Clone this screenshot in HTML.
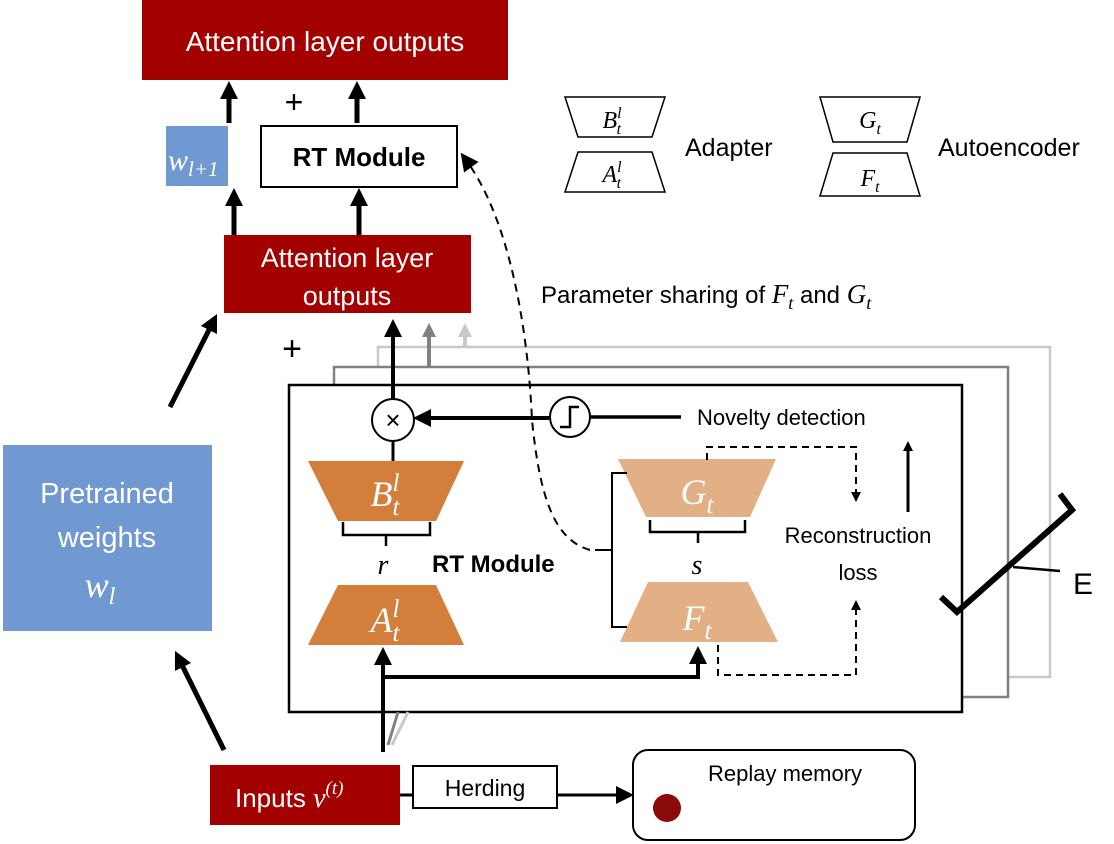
<!DOCTYPE html>
<html><head><meta charset="utf-8"><style>
html,body{margin:0;padding:0;background:#fff;}
svg{display:block;font-family:"Liberation Sans",sans-serif;}
.m{font-family:"Liberation Serif",serif;font-style:italic;}
</style></head><body>
<svg width="1114" height="844" viewBox="0 0 1114 844" xmlns="http://www.w3.org/2000/svg">
<defs>
<marker id="ah" markerWidth="10" markerHeight="10" refX="5" refY="5" orient="auto" markerUnits="userSpaceOnUse" viewBox="0 0 10 10"><path d="M0,0 L10,5 L0,10 z" fill="#000"/></marker>
<marker id="ahb" markerWidth="18" markerHeight="18" refX="9" refY="9" orient="auto" markerUnits="userSpaceOnUse" viewBox="0 0 18 18"><path d="M0,0 L18,9 L0,18 z" fill="#000"/></marker>
<marker id="ahg" markerWidth="14" markerHeight="14" refX="7" refY="7" orient="auto" markerUnits="userSpaceOnUse" viewBox="0 0 14 14"><path d="M0,0 L14,7 L0,14 z" fill="#808080"/></marker>
<marker id="ahl" markerWidth="14" markerHeight="14" refX="7" refY="7" orient="auto" markerUnits="userSpaceOnUse" viewBox="0 0 14 14"><path d="M0,0 L14,7 L0,14 z" fill="#c8c8c8"/></marker>
</defs>

<rect x="142" y="0" width="366" height="80" fill="#a30000"/>
<text x="325" y="51" fill="#fff" font-size="28" text-anchor="middle">Attention layer outputs</text>
<line x1="229" y1="123" x2="229" y2="90" stroke="#000" stroke-width="5" marker-end="url(#ahb)"/>
<line x1="357" y1="123" x2="357" y2="90" stroke="#000" stroke-width="5" marker-end="url(#ahb)"/>
<text x="294" y="113" font-size="32" text-anchor="middle">+</text>
<rect x="166" y="126" width="62" height="60" fill="#7199d1"/>
<text x="168" y="170" class="m" fill="#fff" font-size="30">w<tspan font-size="21" dy="6">l+1</tspan></text>
<rect x="261" y="126" width="196" height="61" fill="#fff" stroke="#000" stroke-width="2"/>
<text x="359" y="166" font-size="26" font-weight="bold" text-anchor="middle">RT Module</text>
<line x1="234" y1="235" x2="234" y2="197" stroke="#000" stroke-width="5" marker-end="url(#ahb)"/>
<line x1="359" y1="235" x2="359" y2="197" stroke="#000" stroke-width="5" marker-end="url(#ahb)"/>

<rect x="224" y="235" width="247" height="78" fill="#a30000"/>
<text x="347" y="267" fill="#fff" font-size="27" text-anchor="middle">Attention layer</text>
<text x="347" y="305" fill="#fff" font-size="27" text-anchor="middle">outputs</text>
<text x="292" y="360" font-size="34" text-anchor="middle">+</text>

<polygon points="565,97 665,97 652,137 578,137" fill="#fff" stroke="#000" stroke-width="1.5"/>
<text x="612" y="128" class="m" font-size="24" text-anchor="middle">B<tspan font-size="16" dy="-10">l</tspan><tspan font-size="16" dx="-5" dy="16">t</tspan></text>
<polygon points="578,152 652,152 665,192 565,192" fill="#fff" stroke="#000" stroke-width="1.5"/>
<text x="612" y="182" class="m" font-size="24" text-anchor="middle">A<tspan font-size="16" dy="-10">l</tspan><tspan font-size="16" dx="-5" dy="16">t</tspan></text>
<text x="685" y="156" font-size="25">Adapter</text>
<polygon points="820,97 920,97 907,142 833,142" fill="#fff" stroke="#000" stroke-width="1.5"/>
<text x="870" y="128" class="m" font-size="24" text-anchor="middle">G<tspan font-size="16" dy="6">t</tspan></text>
<polygon points="833,153 907,153 920,196 820,196" fill="#fff" stroke="#000" stroke-width="1.5"/>
<text x="870" y="186" class="m" font-size="24" text-anchor="middle">F<tspan font-size="16" dy="6">t</tspan></text>
<text x="938" y="156" font-size="25">Autoencoder</text>
<text x="541" y="303" font-size="24">Parameter sharing of <tspan class="m" font-size="27">F<tspan font-size="18" dy="6">t</tspan></tspan><tspan dy="-6"> and </tspan><tspan class="m" font-size="27">G<tspan font-size="18" dy="6">t</tspan></tspan></text>

<polyline points="378,367 378,347 1050,347 1050,677 1008,677" fill="none" stroke="#c8c8c8" stroke-width="2.5"/>
<polyline points="334,385 334,367 1008,367 1008,697 962,697" fill="none" stroke="#808080" stroke-width="2.5"/>
<line x1="465" y1="347" x2="465" y2="330" stroke="#c8c8c8" stroke-width="4" marker-end="url(#ahl)"/>
<line x1="429" y1="367" x2="429" y2="330" stroke="#808080" stroke-width="4" marker-end="url(#ahg)"/>
<rect x="289" y="385" width="673" height="327" fill="#fff" stroke="#000" stroke-width="2.5"/>

<line x1="393" y1="400" x2="393" y2="328" stroke="#000" stroke-width="4" marker-end="url(#ahb)"/>
<line x1="393" y1="440" x2="393" y2="462" stroke="#000" stroke-width="3"/>
<circle cx="393" cy="420" r="21" fill="#fff" stroke="#000" stroke-width="2"/>
<text x="393" y="429" font-size="26" text-anchor="middle">×</text>
<line x1="549" y1="418" x2="422" y2="418" stroke="#000" stroke-width="4" marker-end="url(#ahb)"/>
<circle cx="570" cy="417" r="20" fill="#fff" stroke="#000" stroke-width="2"/>
<polyline points="560,427 570,427 570,407 579,407" fill="none" stroke="#000" stroke-width="2.5"/>
<line x1="590" y1="417" x2="681" y2="417" stroke="#000" stroke-width="3.5"/>
<text x="697" y="425" font-size="22">Novelty detection</text>

<polygon points="308,461 464,461 436,521 338,521" fill="#d47e3b"/>
<text x="385" y="506" class="m" fill="#fff" font-size="36" text-anchor="middle">B<tspan font-size="25" dy="-15">l</tspan><tspan font-size="25" dx="-7" dy="24">t</tspan></text>
<polygon points="338,585 436,585 464,645 308,645" fill="#d47e3b"/>
<text x="385" y="632" class="m" fill="#fff" font-size="36" text-anchor="middle">A<tspan font-size="25" dy="-15">l</tspan><tspan font-size="25" dx="-7" dy="24">t</tspan></text>
<polyline points="343,522 343,535 430,535 430,522" fill="none" stroke="#000" stroke-width="2.5"/>
<line x1="386" y1="535" x2="386" y2="546" stroke="#000" stroke-width="2.5"/>
<text x="383" y="574" class="m" font-size="28" text-anchor="middle">r</text>
<text x="432" y="572" font-size="24" font-weight="bold">RT Module</text>

<polygon points="618,459 776,459 750,517 646,517" fill="#e3b085"/>
<text x="697" y="504" class="m" fill="#fff" font-size="36" text-anchor="middle">G<tspan font-size="25" dy="9">t</tspan></text>
<polygon points="648,582 748,582 778,642 620,642" fill="#e3b085"/>
<text x="697" y="630" class="m" fill="#fff" font-size="36" text-anchor="middle">F<tspan font-size="25" dy="9">t</tspan></text>
<polyline points="650,520 650,532 745,532 745,520" fill="none" stroke="#000" stroke-width="2.5"/>
<line x1="698" y1="532" x2="698" y2="543" stroke="#000" stroke-width="2.5"/>
<text x="697" y="574" class="m" font-size="28" text-anchor="middle">s</text>
<path d="M627,473 L612,473 L612,550 L595,550 M612,550 L612,627 L627,627" fill="none" stroke="#000" stroke-width="2"/>
<text x="858" y="543" font-size="22" text-anchor="middle">Reconstruction</text>
<text x="858" y="580" font-size="22" text-anchor="middle">loss</text>
<polyline points="707,460 707,447 856,447 856,497" fill="none" stroke="#000" stroke-width="2" stroke-dasharray="7,5" marker-end="url(#ah)"/>
<line x1="908" y1="512" x2="908" y2="446" stroke="#000" stroke-width="3" marker-end="url(#ah)"/>
<polyline points="718,645 718,675 856,675 856,605" fill="none" stroke="#000" stroke-width="2" stroke-dasharray="7,5" marker-end="url(#ah)"/>

<path d="M590,550 C555,540 540,500 532,420 C528,330 510,220 466,160" fill="none" stroke="#000" stroke-width="2" stroke-dasharray="8,6" marker-end="url(#ahb)"/>

<line x1="383" y1="752" x2="383" y2="656" stroke="#000" stroke-width="4" marker-end="url(#ahb)"/>
<polyline points="383,677 698,677 698,655" fill="none" stroke="#000" stroke-width="4" marker-end="url(#ahb)"/>
<line x1="388" y1="745" x2="398" y2="712" stroke="#808080" stroke-width="3"/>
<line x1="392" y1="745" x2="408" y2="712" stroke="#c8c8c8" stroke-width="3"/>

<polyline points="941,597 957,612 1072,510 1060,494" fill="none" stroke="#000" stroke-width="6"/>
<line x1="1013" y1="567" x2="1060" y2="571" stroke="#000" stroke-width="2.5"/>
<text x="1073" y="594" font-size="30">E</text>

<rect x="3" y="445" width="209" height="186" fill="#7199d1"/>
<text x="107" y="503" fill="#fff" font-size="29" text-anchor="middle">Pretrained</text>
<text x="107" y="547" fill="#fff" font-size="29" text-anchor="middle">weights</text>
<text x="100" y="597" class="m" fill="#fff" font-size="36" text-anchor="middle">w<tspan font-size="24" dy="7">l</tspan></text>
<line x1="170" y1="407" x2="213" y2="322" stroke="#000" stroke-width="5" marker-end="url(#ahb)"/>
<line x1="224" y1="750" x2="179" y2="659" stroke="#000" stroke-width="5" marker-end="url(#ahb)"/>

<rect x="210" y="765" width="190" height="60" fill="#a30000"/>
<text x="235" y="807" fill="#fff" font-size="26">Inputs <tspan class="m" font-size="28">v</tspan><tspan class="m" font-size="19" dy="-13">(t)</tspan></text>
<line x1="400" y1="795" x2="413" y2="795" stroke="#000" stroke-width="3"/>
<rect x="413" y="766" width="144" height="42" fill="#fff" stroke="#000" stroke-width="2"/>
<text x="485" y="796" font-size="23" text-anchor="middle">Herding</text>
<line x1="557" y1="795" x2="625" y2="795" stroke="#000" stroke-width="3" marker-end="url(#ahb)"/>
<rect x="633" y="750" width="282" height="90" rx="15" fill="#fff" stroke="#000" stroke-width="2"/>
<text x="708" y="781" font-size="22">Replay memory</text>
<circle cx="667" cy="808" r="14" fill="#8b0a0a"/>
</svg>
</body></html>
